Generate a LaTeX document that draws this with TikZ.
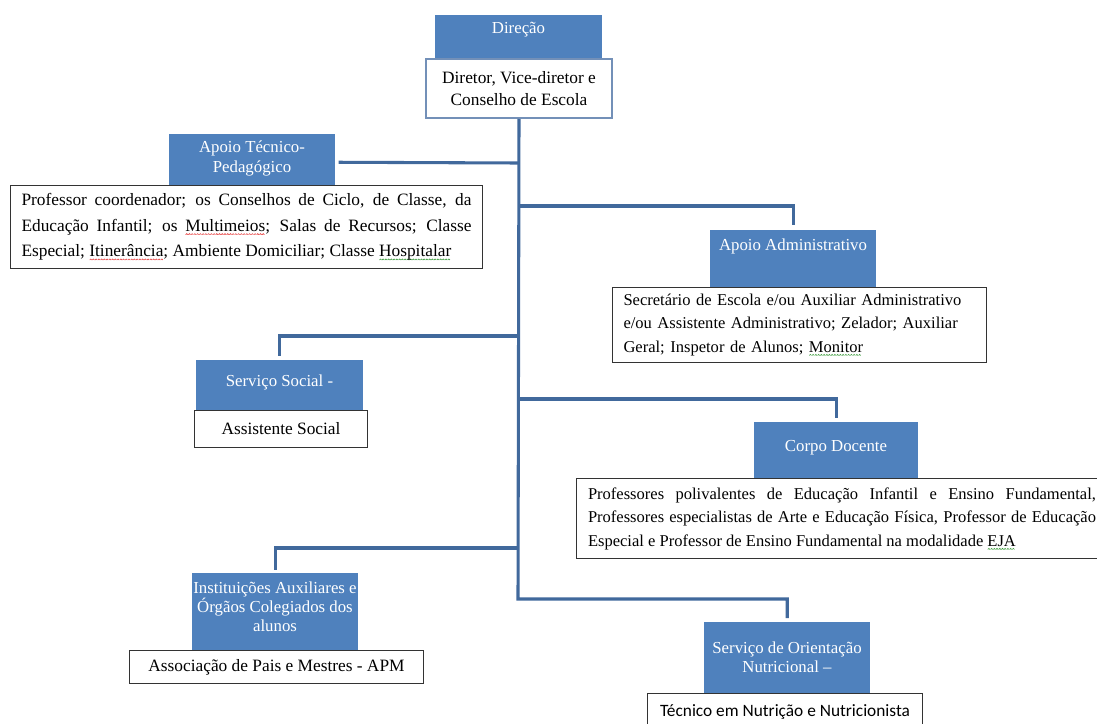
\documentclass[tikz,border=0pt]{standalone}
\usepackage{fontspec}
\setmainfont{Liberation Serif}
\newfontfamily\calibrifont{Carlito}
\definecolor{hdrblue}{HTML}{4F81BD}
\definecolor{linkblue}{HTML}{41699C}
\definecolor{dirframe}{HTML}{7390B8}
\definecolor{spellred}{HTML}{E84848}
\definecolor{spellgreen}{HTML}{3E9E3E}
\newcommand\spellmark[2]{\leavevmode\setbox0\hbox{#2}\rlap{\raisebox{-2.8pt}[0pt][0pt]{\hbox to \wd0{\leaders\hbox{\pgfpicture\pgfsetstrokecolor{#1}\pgfsetlinewidth{0.45pt}\pgfpathmoveto{\pgfpoint{0pt}{0pt}}\pgfpathlineto{\pgfpoint{0.8pt}{0.8pt}}\pgfpathlineto{\pgfpoint{1.6pt}{0pt}}\pgfusepath{stroke}\endpgfpicture}\hfill}}}\box0}

\begin{document}
\begin{tikzpicture}[x=0.75pt,y=-0.75pt,
  hdr/.style={fill=hdrblue,draw=none,anchor=north west,inner sep=0pt},
  hdrtext/.style={anchor=center,inner sep=0pt,text=white,align=center,font=\fontsize{12.6}{14.3}\selectfont},
  infobox/.style={draw=black!80,line width=.75pt,fill=white,anchor=north west,inner sep=0pt,
    execute at begin node={\hyphenpenalty=10000\exhyphenpenalty=10000}},
  link/.style={draw=linkblue,line width=2.3pt}]
\path[use as bounding box] (0,0) rectangle (1097,724);
\node[hdr,minimum width=125.25pt,minimum height=37.5pt] (dir) at (435,15) {};
\node[hdr,minimum width=124.5pt,minimum height=42pt] (tec) at (169,134) {};
\node[hdr,minimum width=124.5pt,minimum height=46.5pt] (adm) at (710,230) {};
\node[hdr,minimum width=125.25pt,minimum height=41.25pt] (soc) at (196,360) {};
\node[hdr,minimum width=123pt,minimum height=45.75pt] (doc) at (754,422) {};
\node[hdr,minimum width=124.5pt,minimum height=61.5pt] (inst) at (192,573) {};
\node[hdr,minimum width=124.5pt,minimum height=57pt] (nut) at (704,622) {};
\node[hdrtext] (dirT) at (518.5,30) {Direção};
\node[hdrtext] (tecT) at (252,158.5) {Apoio Técnico-\\Pedagógico};
\node[hdrtext] (admT) at (793,246) {Apoio Administrativo};
\node[hdrtext] (socT) at (279.5,382) {Serviço Social -};
\node[hdrtext] (docT) at (836,448) {Corpo Docente};
\node[hdrtext] (instT) at (275,607) {Instituições Auxiliares e\\Órgãos Colegiados dos\\alunos};
\node[hdrtext] (nutT) at (787,657) {Serviço de Orientação\\Nutricional --};
\node[infobox,draw=dirframe,line width=1.5pt,minimum width=139.5pt,minimum height=44.25pt,align=center,font=\fontsize{13}{16.5}\selectfont] (dirw) at (425,58) {Diretor, Vice-diretor e\\Conselho de Escola};
\node[infobox,minimum width=354pt,minimum height=62.25pt,text width=337.5pt,inner xsep=8.25pt,align=justify,font=\fontsize{13}{19}\selectfont] (tecw) at (10,185) {Professor coordenador; os Conselhos de Ciclo, de Classe, da\linebreak Educação Infantil; os \spellmark{spellred}{Multimeios}; Salas de Recursos; Classe\linebreak Especial; \spellmark{spellred}{Itinerância}; Ambiente Domiciliar; Classe \spellmark{spellgreen}{Hospitalar}};
\node[infobox,minimum width=280.5pt,minimum height=56.25pt,text width=264pt,inner xsep=8.25pt,align=left,font=\fontsize{12.4}{17.3}\selectfont] (admw) at (612,287) {Secretário de Escola e/ou Auxiliar Administrativo\\e/ou Assistente Administrativo; Zelador; Auxiliar\\Geral; Inspetor de Alunos; \spellmark{spellgreen}{Monitor}};
\node[infobox,minimum width=129.75pt,minimum height=27.75pt,font=\fontsize{13}{16}\selectfont] (socw) at (194,410) {Assistente Social};
\node[infobox,minimum width=398.25pt,minimum height=60pt,text width=381pt,inner xsep=8.6pt,align=justify,font=\fontsize{12.4}{17.6}\selectfont] (docw) at (576,478) {Professores polivalentes de Educação Infantil e Ensino Fundamental,\linebreak Professores especialistas de Arte e Educação Física, Professor de Educação\linebreak Especial e Professor de Ensino Fundamental na modalidade \spellmark{spellgreen}{EJA}};
\node[infobox,minimum width=220.5pt,minimum height=24.75pt,font=\fontsize{13}{16}\selectfont] (apmw) at (129,650) {Associação de Pais e Mestres - APM};
\node[infobox,minimum width=206.25pt,minimum height=27pt,font=\calibrifont\fontsize{13}{16}\selectfont] (nutw) at (647,693) {Técnico em Nutrição e Nutricionista};
\coordinate (jtec) at (518,163);
\coordinate (jadm) at (518,206);
\coordinate (jsoc) at (518,336);
\coordinate (jdoc) at (518,399);
\coordinate (jinst) at (518,548);
\coordinate (jnut) at (518,599);
\draw[link] (dirw.south) -- (jnut) -| ([yshift=3pt]nut.north);
\draw[link] (jtec) -- ([xshift=2.25pt]tec.east);
\draw[link] (jadm) -| ([yshift=3.75pt]adm.north);
\draw[link] (jsoc) -| ([yshift=3pt]soc.north);
\draw[link] (jdoc) -| ([yshift=3pt]doc.north);
\draw[link] (jinst) -| ([yshift=2.25pt]inst.north);
\end{tikzpicture}
\end{document}
